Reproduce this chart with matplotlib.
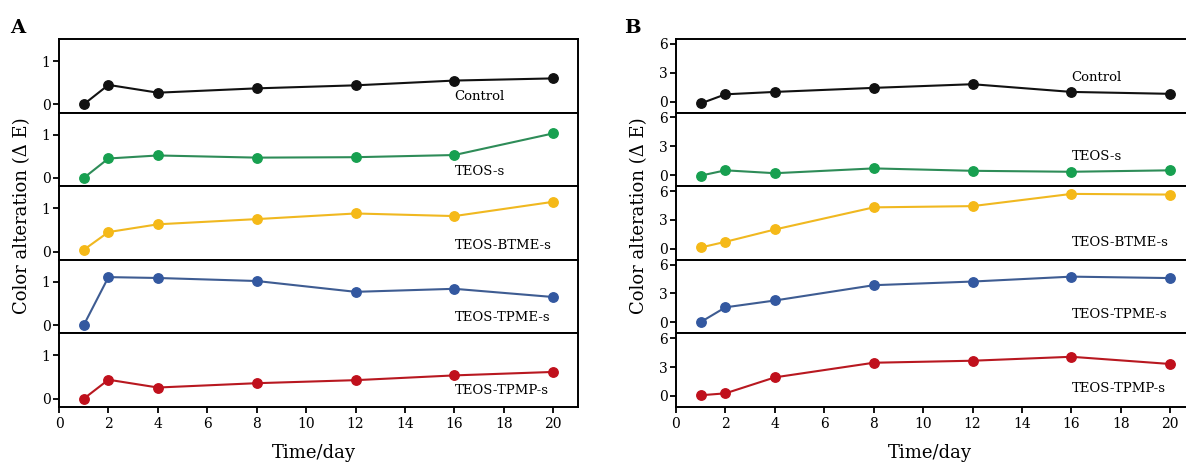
import matplotlib
matplotlib.use("Agg")
import matplotlib.pyplot as plt

plt.rcParams['font.family'] = ['DejaVu Serif']

days = [1, 2, 4, 8, 12, 16, 20]
series_names = ["Control", "TEOS-s", "TEOS-BTME-s", "TEOS-TPME-s", "TEOS-TPMP-s"]
colors = ["#111111", "#17a050", "#f5b918", "#3358a0", "#c0101c"]
line_colors = ["#111111", "#2e8c58", "#f0b820", "#3e5c92", "#b81820"]

# Panel A values
a_control = [0.0, 0.45, 0.27, 0.37, 0.44, 0.55, 0.60]
a_teos = [0.0, 0.45, 0.52, 0.47, 0.48, 0.53, 1.03]
a_btme = [0.04, 0.45, 0.63, 0.75, 0.88, 0.82, 1.15]
a_tpme = [0.0, 1.11, 1.09, 1.02, 0.77, 0.84, 0.65]
a_tpmp = [0.0, 0.44, 0.26, 0.36, 0.43, 0.54, 0.62]

# Panel B values
b_control = [-0.2, 0.75, 1.0, 1.42, 1.8, 1.0, 0.8]
b_teos = [-0.05, 0.5, 0.2, 0.7, 0.45, 0.35, 0.5]
b_btme = [0.13, 0.72, 2.0, 4.3, 4.43, 5.7, 5.63]
b_tpme = [0.03, 1.56, 2.27, 3.86, 4.24, 4.75, 4.6]
b_tpmp = [0.07, 0.27, 1.93, 3.45, 3.66, 4.07, 3.32]

a_series = [a_control, a_teos, a_btme, a_tpme, a_tpmp]
b_series = [b_control, b_teos, b_btme, b_tpme, b_tpmp]

a_yticks = [0, 1]
b_yticks = [0, 3, 6]
x_ticks = list(range(0, 21, 2))

W, H = 1186, 463
fig = plt.figure(figsize=(W / 100, H / 100), dpi=100)

def px_axes(left, top, width, height):
    return fig.add_axes([left / W, 1 - (top + height) / H, width / W, height / H])

top0, bottom0 = 39, 407
n = 5
ph = (bottom0 - top0) / n

def draw_panel(left, width, series, ylim, yticks, label_y, hide_right=False):
    axes = []
    for i in range(n):
        ax = px_axes(left, top0 + i * ph, width, ph)
        ax.plot(days, series[i], color=line_colors[i], lw=1.5, zorder=2)
        ax.plot(days, series[i], 'o', color=colors[i], ms=6.8, mec=colors[i], zorder=3)
        ax.set_xlim(0, 21)
        ax.set_ylim(*ylim)
        ax.set_yticks(yticks)
        ax.set_yticklabels([str(t) for t in yticks], fontsize=10)
        for s in ax.spines.values():
            s.set_linewidth(1.4)
        if hide_right:
            ax.spines['right'].set_visible(False)
        ax.tick_params(axis='y', direction='out', length=4, width=1.3, pad=2)
        if i < n - 1:
            ax.set_xticks([])
        else:
            ax.set_xticks(x_ticks)
            ax.set_xticklabels([str(t) for t in x_ticks], fontsize=10)
            ax.tick_params(axis='x', direction='out', length=4, width=1.3, pad=3)
        ax.text(16.0, ylim[0] + label_y[i] * (ylim[1] - ylim[0]), series_names[i],
                fontsize=9.5, ha='left', va='center', zorder=4)
        axes.append(ax)
    return axes

draw_panel(59, 519, a_series, (-0.19, 1.51), a_yticks, [0.22, 0.20, 0.20, 0.22, 0.23])
draw_panel(676, 519, b_series, (-1.15, 6.5), b_yticks, [0.48, 0.41, 0.24, 0.25, 0.25],
           hide_right=True)

fig.text(18 / W, 1 - 28 / H, "A", fontsize=14, fontweight='bold', ha='center', va='center')
fig.text(632 / W, 1 - 28 / H, "B", fontsize=14, fontweight='bold', ha='center', va='center')

fig.text(22 / W, 1 - 216 / H, "Color alteration (\u0394 E)", fontsize=13, rotation=90,
         ha='center', va='center')
fig.text(639 / W, 1 - 216 / H, "Color alteration (\u0394 E)", fontsize=13, rotation=90,
         ha='center', va='center')
fig.text(314 / W, 1 - 453 / H, "Time/day", fontsize=13, ha='center', va='center')
fig.text(930 / W, 1 - 453 / H, "Time/day", fontsize=13, ha='center', va='center')

fig.savefig("out.png", dpi=100)
